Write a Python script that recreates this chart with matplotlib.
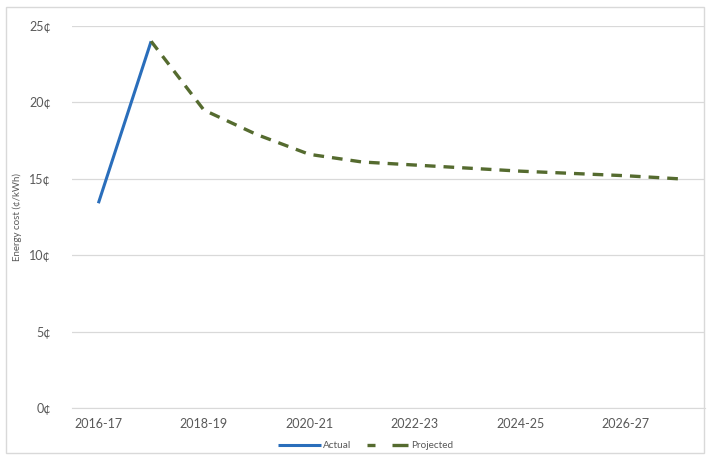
import matplotlib
matplotlib.use("Agg")
import matplotlib.pyplot as plt
from matplotlib.patches import Rectangle
from matplotlib.lines import Line2D
import numpy as np

categories = ["2016-17", "2017-18", "2018-19", "2019-20", "2020-21", "2021-22",
              "2022-23", "2023-24", "2024-25", "2025-26", "2026-27", "2027-28"]
actual = [13.4, 24.0, None, None, None, None, None, None, None, None, None, None]
projected = [None, 24.0, 19.5, 17.9, 16.6, 16.1, 15.9, 15.7, 15.5, 15.35, 15.2, 15.0]
y_ticks = [0, 5, 10, 15, 20, 25]
y_tick_labels = ["0¢", "5¢", "10¢", "15¢", "20¢", "25¢"]

plt.rcParams['font.family'] = ['Lato', 'DejaVu Sans']

blue = "#2a6ebb"
olive = "#556b2f"

fig = plt.figure(figsize=(7.09, 4.59), dpi=100)
ax = fig.add_axes([72/709, 1-408/459, (705-72)/709, (408-26)/459])

x = np.arange(len(categories))
a = np.array([np.nan if v is None else v for v in actual], dtype=float)
p = np.array([np.nan if v is None else v for v in projected], dtype=float)

ax.plot(x, a, color=blue, lw=2.2, solid_capstyle="butt")
ax.plot(x, p, color=olive, lw=2.4, dashes=(3.2, 2.4))

ax.set_xlim(-0.5, len(categories) - 0.5)
ax.set_ylim(0, 25)
ax.set_yticks(y_ticks)
ax.set_yticklabels(y_tick_labels)
ax.set_xticks(x[::2])
ax.set_xticklabels(categories[::2])
ax.grid(axis="y", color="#d9d9d9", lw=0.9)
ax.set_axisbelow(True)
for s in ["top", "right", "left"]:
    ax.spines[s].set_visible(False)
ax.spines["bottom"].set_color("#d9d9d9")
ax.tick_params(axis="both", length=0, colors="#595959", labelsize=9)
ax.tick_params(axis="y", pad=15)
ax.tick_params(axis="x", pad=7)
ax.set_ylabel("Energy cost (¢/kWh)", fontsize=7, color="#595959", labelpad=5)

handles = [
    Line2D([], [], color=blue, lw=2.2, solid_capstyle="butt"),
    Line2D([], [], color=olive, lw=2.4, dashes=(2.4, 5.1, 4.8, 5)),
]
leg = ax.legend(handles, ["Actual", "Projected"], loc="center",
                bbox_to_anchor=(0.4645, -0.099), ncol=2,
                frameon=False, fontsize=7.2, handlelength=4.3, columnspacing=1.5,
                handletextpad=0.2, borderpad=0)
for t in leg.get_texts():
    t.set_color("#595959")

fig.patches.append(Rectangle((6/709, 1-453/459), (704-6)/709, (453-7)/459,
                             transform=fig.transFigure, fill=False,
                             edgecolor="#d9d9d9", lw=1))

fig.savefig("out.png", dpi=100)
